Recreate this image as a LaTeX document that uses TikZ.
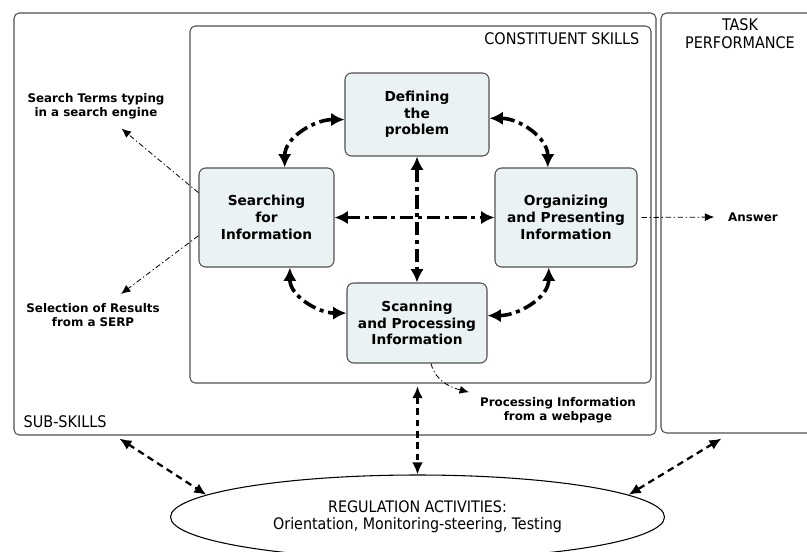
\documentclass[tikz,border=0pt]{standalone}
\usepackage{fontspec}
\setmainfont{DejaVu Sans}
\newfontfamily\condfont{DejaVu Sans Condensed}
\usepackage{tikz}
\usetikzlibrary{calc, arrows.meta, shapes.geometric, fit}

\definecolor{boxfill}{HTML}{EBF2F4}
\definecolor{boxline}{HTML}{505050}

\begin{document}
\begin{tikzpicture}[x=0.75pt, y=-0.75pt, >=latex]
		\tikzstyle{frame} = [draw=boxline, line width=0.8pt, rounded corners=4pt, inner sep=0pt]
		\tikzstyle{skill} = [draw=boxline, line width=0.8pt, fill=boxfill, rounded corners=5pt, align=center, font=\bfseries\fontsize{10.3}{12.5}\selectfont]
		\tikzstyle{label} = [draw=none, align=center, font=\bfseries\fontsize{8.9}{10.5}\selectfont]
		\tikzstyle{title} = [draw=none, align=center, font=\condfont\fontsize{12}{13.5}\selectfont]
		\tikzstyle{bigarrow} = [<->, >={Latex[length=10pt, width=10pt]}, line width=2.7pt, dash pattern=on 10pt off 3.5pt on 3pt off 3.5pt]
		\tikzstyle{thinarrow} = [->, >={Latex[length=7pt, width=6pt]}, line width=0.6pt, dash pattern=on 4pt off 2pt on 1pt off 2pt]
		\tikzstyle{regarrow} = [<->, >={Latex[length=9pt, width=8pt]}, line width=1.7pt, dash pattern=on 5pt off 3.5pt]
		
		\useasboundingbox (0,0) rectangle (807,551);
		
		% frames
		\node[frame, fit={(14,13) (656,435)}]		(sub)	{};
		\node[frame, fit={(190,26) (651,383)}]		(cons)	{};
		\node[frame, fit={(661,13) (850,433)}]		(task)	{};
		\node[title, anchor=east]	at (644, 39)	(constitle)	{CONSTITUENT SKILLS};
		\node[title]				at (740, 34)	(tasktitle)	{TASK\\PERFORMANCE};
		\node[title, anchor=west]	at (19, 422)	(subtitle)	{SUB-SKILLS};
		
		% skills
		\node[skill, minimum width=108pt, minimum height=62.25pt]	at (417, 114.5)		(def)	{Defining\\the\\problem};
		\node[skill, minimum width=101.25pt, minimum height=74.25pt]	at (266.5, 217.5)	(srch)	{Searching\\for\\Information};
		\node[skill, minimum width=106.5pt, minimum height=74.25pt]	at (566, 217.5)		(org)	{Organizing\\and Presenting\\Information};
		\node[skill, minimum width=105pt, minimum height=60pt]		at (417, 323)		(scan)	{Scanning\\and Processing\\Information};
		
		% sub-skills and answer
		\node[label]	at (96, 106)	(st)	{Search Terms typing\\in a search engine};
		\node[label]	at (93, 315)	(sel)	{Selection of Results\\from a SERP};
		\node[label]	at (558, 410)	(proc)	{Processing Information\\from a webpage};
		\node[label]	at (753, 217)	(ans)	{Answer};
		
		% regulation
		\node[ellipse, draw=black, line width=0.8pt, minimum width=370.5pt, minimum height=63pt, align=center, font=\condfont\fontsize{11.9}{12.75}\selectfont]	at (417.5, 517)	(reg)	{REGULATION ACTIVITIES:\\Orientation, Monitoring-steering, Testing};
		
		\path[bigarrow]
		(def.184)	edge[out=180, in=90]	(srch.70)
		(def.357)	edge[out=0, in=90]		(org.110)
		(srch.295)	edge[out=-90, in=180]	(scan.172)
		(org.251)	edge[out=-90, in=0]		(scan.6)
		(srch.east)	edge	(org.west)
		(def.south)	edge	(scan.north);
		
		\path[thinarrow]
		(srch.160)	edge[shorten >=6pt]	(st.-42)
		(srch.195)	edge[shorten >=6pt]	(sel.37)
		(scan.-71)	edge[out=-75, in=165, shorten >=5pt]	(proc.169)
		(org.east)	edge[shorten <=3pt, shorten >=7pt]	(ans.west);
		
		\path[regarrow]
		($(sub.south west)+(106,3)$)	edge	(reg.174)
		($(task.south west)+(61,5)$)	edge	(reg.6)
		(reg.north |- cons.south)		edge[shorten <=2pt]	(reg.north);
		\end{tikzpicture}
\end{document}
